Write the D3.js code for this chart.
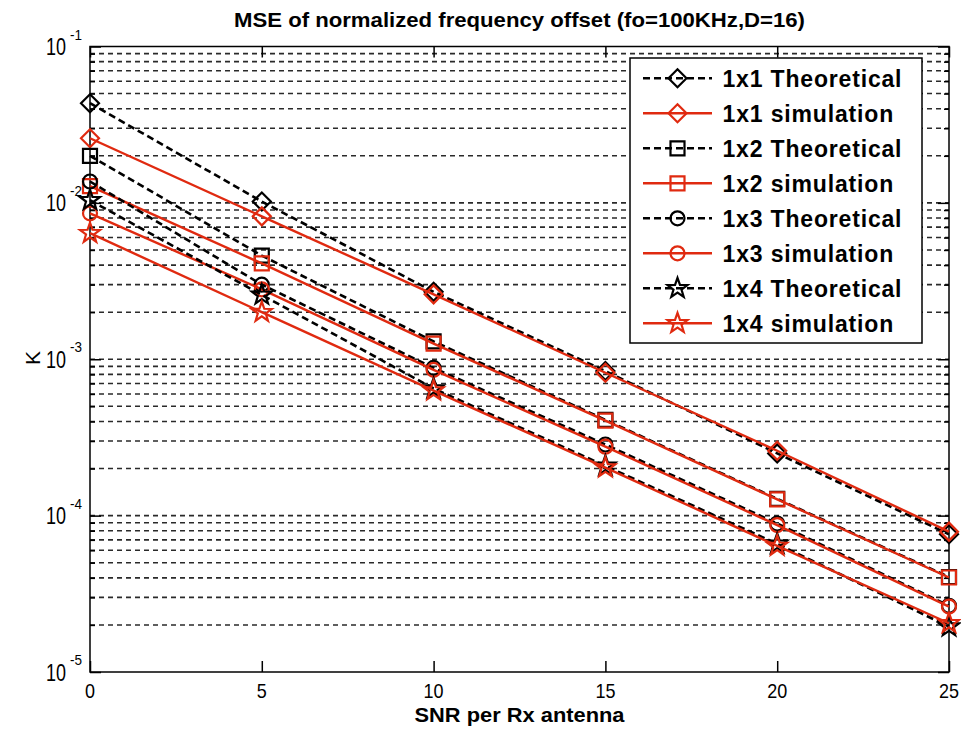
<!DOCTYPE html>
<html><head><meta charset="utf-8">
<script src="https://cdn.jsdelivr.net/npm/d3@7"></script>
<style>body{margin:0;background:#fff}svg{display:block}</style>
</head><body><svg id="c" width="961" height="735"></svg>
<script>
// ---- data ----
const snr = [0, 5, 10, 15, 20, 25];
const theo1x1 = [0.0434, 0.0102, 0.0027, 0.00084, 0.00025, 0.000076];
const sim1x1  = [0.0259, 0.0082, 0.0026, 0.00082, 0.00026, 0.000079];
const theo1x2 = [0.0200, 0.0046, 0.0013, 0.00041, 0.000128, 0.0000405];
const sim1x2  = [0.0128, 0.0041, 0.00126, 0.000405, 0.000127, 0.0000402];
const theo1x3 = [0.0137, 0.0030, 0.00088, 0.000285, 0.000089, 0.0000265];
const sim1x3  = [0.00857, 0.0028, 0.000855, 0.000276, 0.000087, 0.0000262];
const theo1x4 = [0.0104, 0.00258, 0.00065, 0.000208, 0.000066, 0.0000195];
const sim1x4  = [0.0064, 0.0020, 0.00063, 0.000203, 0.000064, 0.0000205];
const seriesNames = ["1x1 Theoretical", "1x1 simulation", "1x2 Theoretical", "1x2 simulation",
                     "1x3 Theoretical", "1x3 simulation", "1x4 Theoretical", "1x4 simulation"];
const seriesValues = [theo1x1, sim1x1, theo1x2, sim1x2, theo1x3, sim1x3, theo1x4, sim1x4];
const seriesMarkers = ["diamond", "diamond", "square", "square", "circle", "circle", "star", "star"];
const seriesKinds = ["theo", "sim", "theo", "sim", "theo", "sim", "theo", "sim"];
const xTicks = [0, 5, 10, 15, 20, 25];
const yTickExps = [-1, -2, -3, -4, -5];
const titleText = "MSE of normalized frequency offset (fo=100KHz,D=16)";
const xLabelText = "SNR per Rx antenna";
const yLabelText = "K";

// ---- layout / style ----
const L = 90, R = 949, T = 46.5, B = 672;
const RED = "#e02a10";
const FONT = "'Liberation Sans', Arial, sans-serif";
const svg = d3.select("#c");
const x = d3.scaleLinear().domain([0, 25]).range([L, R]);
const y = d3.scaleLog().domain([1e-5, 1e-1]).range([B, T]);

// gridlines (major + minor)
const gridVals = [];
for (let e = -5; e <= -2; e++) for (let m = 1; m <= 9; m++) gridVals.push(m * Math.pow(10, e));
gridVals.push(0.1);
svg.append("g").selectAll("line").data(gridVals.filter(v => v > 1.0001e-5 && v < 0.0999)).join("line")
  .attr("x1", L).attr("x2", R).attr("y1", d => y(d)).attr("y2", d => y(d))
  .attr("stroke", "#2a2a2a").attr("stroke-width", 1.6).attr("stroke-dasharray", "5,4");

// axes ticks using d3 axes (inward)
const majors = yTickExps.map(e => Math.pow(10, e));
const minors = gridVals.filter(v => !majors.some(m => Math.abs(m - v) / m < 1e-6));
function styleAxis(g) { g.select(".domain").remove(); g.selectAll("text").remove();
  g.selectAll("line").attr("stroke", "#000").attr("stroke-width", 1.5); }
svg.append("g").attr("transform", `translate(${L},0)`).call(d3.axisLeft(y).tickValues(majors).tickSize(-11)).call(styleAxis);
svg.append("g").attr("transform", `translate(${L},0)`).call(d3.axisLeft(y).tickValues(minors).tickSize(-5)).call(styleAxis);
svg.append("g").attr("transform", `translate(${R},0)`).call(d3.axisRight(y).tickValues(majors).tickSize(-11)).call(styleAxis);
svg.append("g").attr("transform", `translate(${R},0)`).call(d3.axisRight(y).tickValues(minors).tickSize(-5)).call(styleAxis);
svg.append("g").attr("transform", `translate(0,${B})`).call(d3.axisBottom(x).tickValues(xTicks).tickSize(-11)).call(styleAxis);
svg.append("g").attr("transform", `translate(0,${T})`).call(d3.axisTop(x).tickValues(xTicks).tickSize(-11)).call(styleAxis);

// y tick labels 10^n
yTickExps.forEach(e => {
  const yy = y(Math.pow(10, e));
  svg.append("text").attr("x", 66).attr("y", yy + 8.5).attr("text-anchor", "end")
    .attr("font-family", FONT).attr("font-size", 23).attr("textLength", 20).attr("lengthAdjust", "spacingAndGlyphs").text("10");
  svg.append("text").attr("x", 70).attr("y", yy - 7)
    .attr("font-family", FONT).attr("font-size", 14).attr("textLength", 12).attr("lengthAdjust", "spacingAndGlyphs").text(String(e));
});
// x tick labels
xTicks.forEach(t => {
  const s = String(t);
  svg.append("text").attr("x", x(t)).attr("y", B + 26).attr("text-anchor", "middle")
    .attr("font-family", FONT).attr("font-size", 21).attr("textLength", 10 * s.length).attr("lengthAdjust", "spacingAndGlyphs").text(s);
});

// plot box
svg.append("rect").attr("x", L).attr("y", T).attr("width", R - L).attr("height", B - T)
  .attr("fill", "none").attr("stroke", "#000").attr("stroke-width", 1.5);

// markers
function markerPath(type) {
  if (type === "diamond") return "M0,-9L9,0L0,9L-9,0Z";
  if (type === "square") return "M-7,-7H7V7H-7Z";
  if (type === "circle") return "M7,0A7,7 0 1,1 -7,0A7,7 0 1,1 7,0Z";
  const pts = [];
  for (let i = 0; i < 10; i++) {
    const r = i % 2 === 0 ? 10.5 : 4.2, a = -Math.PI / 2 + i * Math.PI / 5;
    pts.push([r * Math.cos(a), r * Math.sin(a)]);
  }
  return "M" + pts.map(p => p.join(",")).join("L") + "Z";
}
const line = d3.line().x((d, i) => x(snr[i])).y(d => y(d));
seriesValues.forEach((vals, k) => {
  const theo = seriesKinds[k] === "theo";
  const col = theo ? "#000" : RED;
  const g = svg.append("g");
  g.append("path").attr("d", line(vals)).attr("fill", "none").attr("stroke", col)
    .attr("stroke-width", theo ? 2.6 : 2.4).attr("stroke-dasharray", theo ? "7,4" : null);
  g.selectAll("path.m").data(vals).join("path").attr("class", "m")
    .attr("transform", (d, i) => `translate(${x(snr[i])},${y(d)})`)
    .attr("d", markerPath(seriesMarkers[k])).attr("fill", "none").attr("stroke", col).attr("stroke-width", 2.2);
});

// legend
const lg = svg.append("g");
lg.append("rect").attr("x", 630).attr("y", 58).attr("width", 292).attr("height", 285)
  .attr("fill", "#fff").attr("stroke", "#000").attr("stroke-width", 1.5);
const texts = [];
seriesNames.forEach((name, k) => {
  const yy = 78.3 + 35 * k;
  const theo = seriesKinds[k] === "theo";
  const col = theo ? "#000" : RED;
  lg.append("line").attr("x1", 643).attr("x2", 712).attr("y1", yy).attr("y2", yy)
    .attr("stroke", col).attr("stroke-width", theo ? 2.6 : 2.4).attr("stroke-dasharray", theo ? "7,4" : null);
  lg.append("path").attr("transform", `translate(677.5,${yy})`).attr("d", markerPath(seriesMarkers[k]))
    .attr("fill", "none").attr("stroke", col).attr("stroke-width", 2.2);
  texts.push(lg.append("text").attr("x", 722.5).attr("y", yy + 8.3).attr("font-family", FONT)
    .attr("font-size", 23).attr("font-weight", "bold").text(name));
});
const ref = texts[0].node().getComputedTextLength();
const kfac = 179 / ref;
texts.forEach(t => t.attr("textLength", t.node().getComputedTextLength() * kfac).attr("lengthAdjust", "spacing"));

// title and axis labels
svg.append("text").attr("x", (L + R) / 2).attr("y", 27).attr("text-anchor", "middle")
  .attr("font-family", FONT).attr("font-size", 19.5).attr("font-weight", "bold")
  .attr("textLength", 571).attr("lengthAdjust", "spacingAndGlyphs").text(titleText);
svg.append("text").attr("x", (L + R) / 2).attr("y", 722).attr("text-anchor", "middle")
  .attr("font-family", FONT).attr("font-size", 20).attr("font-weight", "bold")
  .attr("textLength", 210).attr("lengthAdjust", "spacingAndGlyphs").text(xLabelText);
svg.append("text").attr("transform", `translate(40,358) rotate(-90)`).attr("text-anchor", "middle")
  .attr("font-family", FONT).attr("font-size", 21).text(yLabelText);
</script></body></html>
